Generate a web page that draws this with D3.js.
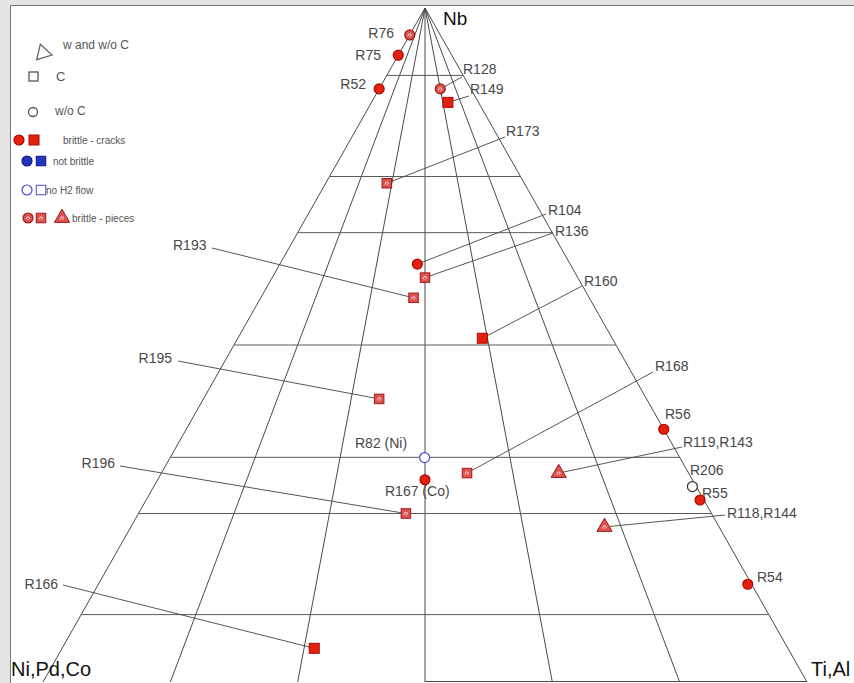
<!DOCTYPE html>
<meta charset="utf-8">
<script src="https://d3js.org/d3.v7.min.js"></script>
<style>
  body { margin: 0; background: #fff; }
  text { font-family: "Liberation Sans", Arial, sans-serif; }
</style>
<div id="my_dataviz"></div>
<script>
    // sample names and compositions (at.% Nb and at.% Ti,Al; rest is Ni,Pd,Co)
    var labels = ["R76", "R75", "R52", "R128", "R149", "R173", "R104", "R136", "R193", "R160",
        "R195", "R168", "R56", "R82 (Ni)", "R167 (Co)", "R119,R143", "R206", "R55", "R118,R144",
        "R196", "R54", "R166"];
    var nb = [96, 93, 88, 88, 86, 74, 62, 60, 57, 51, 42, 31, 37.5, 33.3, 30, 31, 29, 27, 23, 25, 14.5, 5];
    var ti = [0, 0, 0, 8, 10, 8, 18, 20, 20, 32, 23, 40, 62.5, 33.3, 35, 52, 70.5, 72.5, 62, 35, 85, 33];
    // marker: shape + brittleness
    var kind = ["pieces-circle", "cracks-circle", "cracks-circle", "pieces-circle", "cracks-square",
        "pieces-square", "cracks-circle", "pieces-square", "pieces-square", "cracks-square",
        "pieces-square", "pieces-square", "cracks-circle", "noflow-circle", "cracks-circle",
        "pieces-triangle", "open-circle", "cracks-circle", "pieces-triangle", "pieces-square",
        "cracks-circle", "cracks-square"];

    // grid levels
    var nbLevels = [10, 25, 100 / 3, 50, 200 / 3, 75, 90];
    var fanLevels = [0, 100 / 6, 200 / 6, 50, 400 / 6, 500 / 6, 100];

    // label layout: [x, y, anchor, leaderX, leaderY]
    var labelLayout = [
        [394, 33, "end"], [381, 55, "end"], [366, 84, "end"],
        [463, 69, "start", 462, 77], [470, 89, "start", 469, 96],
        [506, 131, "start", 505, 137], [548, 210, "start", 546, 214],
        [555, 231, "start", 553, 233], [173, 245, "start", 212, 248],
        [584, 281, "start", 582, 286], [172, 358, "end", 178, 361],
        [655, 366, "start", 653, 372], [665, 414, "start"], [355, 443, "start"],
        [385, 491, "start"], [683, 442, "start", 682, 447], [690, 470, "start"],
        [702, 493, "start"], [727, 513, "start", 725, 515], [115, 463, "end", 120, 466],
        [757, 577, "start"], [58, 584, "end", 63, 585]
    ];

    var width = 854, height = 683;
    var svg = d3.select("#my_dataviz").append("svg")
        .attr("width", width).attr("height", height);

    // page frame (only top and left edges show)
    svg.append("rect").attr("width", width).attr("height", height).attr("fill", "#e4e4e4");
    svg.append("rect").attr("x", 10).attr("y", 5).attr("width", width - 10).attr("height", height - 5)
        .attr("fill", "#fff");
    svg.append("path").attr("d", "M10.5," + height + "V5.5H" + width)
        .attr("fill", "none").attr("stroke", "#777").attr("stroke-width", 1);

    // ternary scales
    var y = d3.scaleLinear().domain([0, 100]).range([682, 8]);
    var x = d3.scaleLinear().domain([0, 100]).range([43, 807]);
    function px(n, t) { return x(t + n / 2); }

    var grid = svg.append("g").attr("stroke", "#4a4a4a").attr("stroke-width", 1).attr("fill", "none");

    // lines from the Nb corner to the base
    fanLevels.forEach(function (f) {
        grid.append("line")
            .attr("x1", px(100, 0)).attr("y1", y(100))
            .attr("x2", x(f)).attr("y2", y(0));
    });
    // horizontal Nb levels
    nbLevels.forEach(function (n) {
        grid.append("line")
            .attr("x1", px(n, 0)).attr("y1", y(n))
            .attr("x2", px(n, 100 - n)).attr("y2", y(n))
            .attr("stroke", "#5a5a5a");
    });
    grid.append("line")
        .attr("x1", x(50)).attr("y1", y(0) - 0.5)
        .attr("x2", x(100)).attr("y2", y(0) - 0.5);

    // corner labels
    svg.append("text").attr("x", 443).attr("y", 25).text("Nb")
        .attr("font-size", 19).attr("fill", "#111");
    svg.append("text").attr("x", 11).attr("y", 676).text("Ni,Pd,Co")
        .attr("font-size", 20).attr("fill", "#111");
    svg.append("text").attr("x", 811).attr("y", 676).text("Ti,Al")
        .attr("font-size", 20).attr("fill", "#111");

    // leaders
    var data = labels.map(function (d, i) {
        return { label: d, nb: nb[i], ti: ti[i], kind: kind[i], lay: labelLayout[i] };
    });
    svg.append("g").selectAll("line")
        .data(data.filter(function (d) { return d.lay.length > 3; }))
        .enter().append("line")
        .attr("x1", function (d) { return px(d.nb, d.ti); })
        .attr("y1", function (d) { return y(d.nb); })
        .attr("x2", function (d) { return d.lay[3]; })
        .attr("y2", function (d) { return d.lay[4]; })
        .attr("stroke", "#444").attr("stroke-width", 0.9);

    // marker drawing
    var red = "#e4200e", redEdge = "#a80800", pink = "#dc5450", blue = "#2233c0";
    function marker(g, k, cx, cy) {
        var shape = k.split("-")[1], style = k.split("-")[0];
        var fill = "none", stroke = "#444";
        if (style === "cracks") { fill = red; stroke = redEdge; }
        if (style === "pieces") { fill = pink; stroke = "#a01818"; }
        if (style === "solid") { fill = blue; stroke = "#101880"; }
        if (style === "noflow") { fill = "#fff"; stroke = "#4a4ac8"; }
        if (style === "open") { fill = "#fff"; stroke = "#333"; }
        if (shape === "circle") {
            g.append("circle").attr("cx", cx).attr("cy", cy).attr("r", 5)
                .attr("fill", fill).attr("stroke", stroke).attr("stroke-width", 1.2);
        } else if (shape === "square") {
            var s = style === "cracks" ? 10 : 9.5;
            g.append("rect").attr("x", cx - s / 2).attr("y", cy - s / 2).attr("width", s).attr("height", s)
                .attr("fill", fill).attr("stroke", stroke).attr("stroke-width", 1);
        } else if (shape === "triangle") {
            g.append("path").attr("d", d3.symbol(d3.symbolTriangle, 100)())
                .attr("transform", "translate(" + cx + "," + cy + ")")
                .attr("fill", fill).attr("stroke", stroke).attr("stroke-width", 1);
        }
        if (style === "pieces") {
            g.append("path")
                .attr("d", "M" + (cx - 2) + "," + (cy + 1.5) + "q1,-4 3,-2.5 q1.5,1.5 -1,3")
                .attr("fill", "none").attr("stroke", "#f8d0d0").attr("stroke-width", 1);
        }
    }

    var pts = svg.append("g");
    data.forEach(function (d) { marker(pts, d.kind, px(d.nb, d.ti), y(d.nb)); });

    // point labels
    svg.append("g").selectAll("text")
        .data(data).enter().append("text")
        .attr("x", function (d) { return d.lay[0]; })
        .attr("y", function (d) { return d.lay[1]; })
        .attr("text-anchor", function (d) { return d.lay[2]; })
        .attr("dominant-baseline", "central")
        .attr("font-size", 14).attr("fill", "#484848")
        .text(function (d) { return d.label; });

    // legend
    var lg = svg.append("g").attr("fill", "#555");
    lg.append("path").attr("d", d3.symbol(d3.symbolTriangle, 110)())
        .attr("transform", "translate(43,53) rotate(-17)")
        .attr("fill", "none").attr("stroke", "#666").attr("stroke-width", 1.3);
    lg.append("text").attr("x", 63).attr("y", 45).attr("font-size", 12).attr("dominant-baseline", "central")
        .text("w and w/o C");
    lg.append("rect").attr("x", 29).attr("y", 72).attr("width", 9).attr("height", 9)
        .attr("fill", "none").attr("stroke", "#555").attr("stroke-width", 1.3);
    lg.append("text").attr("x", 56).attr("y", 76).attr("font-size", 13).attr("dominant-baseline", "central")
        .text("C");
    lg.append("circle").attr("cx", 33).attr("cy", 112).attr("r", 4.5)
        .attr("fill", "none").attr("stroke", "#555").attr("stroke-width", 1.3);
    lg.append("text").attr("x", 55).attr("y", 111).attr("font-size", 12).attr("dominant-baseline", "central")
        .text("w/o C");

    var legendRows = [
        { items: [["cracks-circle", 19], ["cracks-square", 34]], text: "brittle - cracks", tx: 63, y: 140 },
        { items: [["solid-circle", 27], ["solid-square", 41]], text: "not brittle", tx: 53, y: 161 },
        { items: [["noflow-circle", 27], ["noflow-square", 41]], text: "no H2 flow", tx: 46, y: 190 },
        { items: [["pieces-circle", 28], ["pieces-square", 41], ["pieces-triangle", 62]], text: "brittle - pieces", tx: 72, y: 218 }
    ];
    legendRows.forEach(function (r) {
        r.items.forEach(function (it) { marker(lg, it[0], it[1], r.y); });
        lg.append("text").attr("x", r.tx).attr("y", r.y).attr("font-size", 10)
            .attr("dominant-baseline", "central").text(r.text);
    });
</script>
